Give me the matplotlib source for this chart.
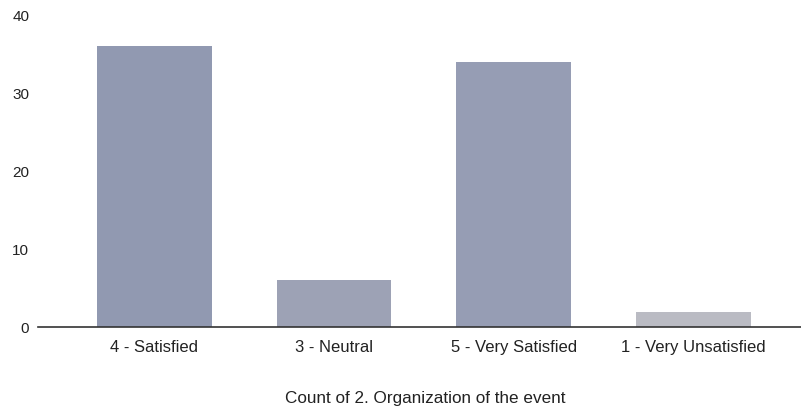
import matplotlib
matplotlib.use("Agg")
import matplotlib.pyplot as plt

categories = ["4 - Satisfied", "3 - Neutral", "5 - Very Satisfied", "1 - Very Unsatisfied"]
counts = [36, 6, 34, 2]
y_ticks = [0, 10, 20, 30, 40]
x_title = "Count of 2. Organization of the event"

bar_colors = ["#9199b1", "#9da2b5", "#969db4", "#babbc3"]

plt.rcParams["font.family"] = ["Liberation Sans", "DejaVu Sans"]

fig = plt.figure(figsize=(8.01, 4.09), dpi=100)
ax = fig.add_axes([0.047, 0.2, 0.953, 0.763])

x = range(len(categories))
ax.bar(x, counts, width=0.64, color=bar_colors, edgecolor="none")

ax.set_xlim(-0.65, 3.6)
ax.set_ylim(0, 40)
ax.set_yticks(y_ticks)
ax.set_xticks(list(x))
ax.set_xticklabels(categories)

for side in ["top", "right", "left"]:
    ax.spines[side].set_visible(False)
ax.spines["bottom"].set_color("#333333")
ax.spines["bottom"].set_linewidth(1.2)

ax.tick_params(axis="y", length=0, pad=6, labelsize=11, labelcolor="#222222")
ax.tick_params(axis="x", length=0, pad=9, labelsize=12, labelcolor="#222222")

fig.text(425 / 801, 1 - 398 / 409, x_title, ha="center", va="center",
         fontsize=12.3, color="#222222")

plt.savefig("out.png", dpi=100)
